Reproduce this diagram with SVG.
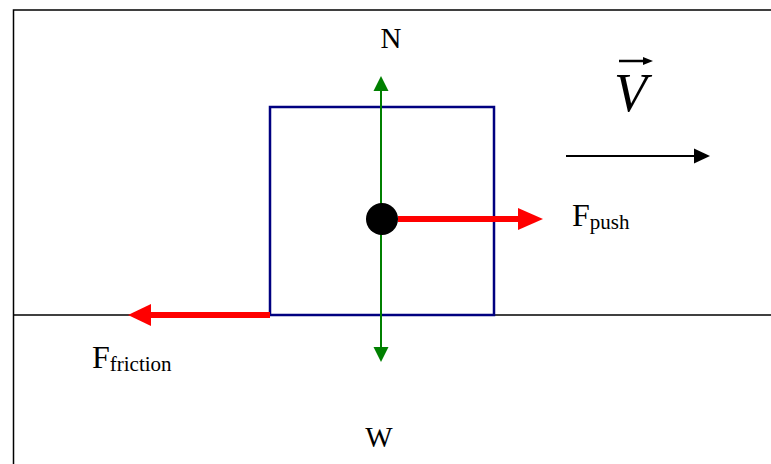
<svg xmlns="http://www.w3.org/2000/svg" width="771" height="464" viewBox="0 0 771 464">
<style>
.t{font-family:"Liberation Serif","Times New Roman",serif;fill:#000}
.frame{fill:none;stroke:#000;stroke-width:1.5}
</style>
<defs>
<marker id="gh" markerWidth="16" markerHeight="16" refX="0" refY="0" viewBox="-8 -8 16 16" orient="auto" markerUnits="userSpaceOnUse">
<path d="M8,0 L-7,-7.5 L-7,7.5 Z" fill="#008000"/>
</marker>
<marker id="kh" viewBox="-8 -8 16 16" markerWidth="16" markerHeight="16" refX="0" refY="0" orient="auto" markerUnits="userSpaceOnUse">
<path d="M8,0 L-8,-7.5 L-8,7.5 Z" fill="#000"/>
</marker>
</defs>
<rect width="771" height="464" fill="#fff"/>
<g id="frame">
<path class="frame" d="M771,10 H13.5 V464"/>
<line x1="13" y1="315" x2="771" y2="315" stroke="#000" stroke-width="1.5"/>
</g>
<g id="block">
<rect x="270" y="107" width="224" height="208" fill="none" stroke="#000080" stroke-width="2.5"/>
</g>
<g id="connectors">
<line x1="381" y1="220" x2="381" y2="84" stroke="#008000" stroke-width="2" marker-end="url(#gh)"/>
<line x1="381" y1="220" x2="381" y2="354" stroke="#008000" stroke-width="2" marker-end="url(#gh)"/>
<line x1="398" y1="219" x2="520" y2="219" stroke="#ff0000" stroke-width="6"/>
<path d="M543,219 L518,208 L518,230 Z" fill="#ff0000"/>
<line x1="270" y1="315" x2="148" y2="315" stroke="#ff0000" stroke-width="6"/>
<path d="M128,315 L151,304 L151,326 Z" fill="#ff0000"/>
<line x1="566" y1="156" x2="702" y2="156" stroke="#000" stroke-width="2" marker-end="url(#kh)"/>
</g>
<g id="dot"><circle cx="382" cy="219" r="16" fill="#000"/></g>
<g id="labels">
<text class="t" x="391" y="48" font-size="29" text-anchor="middle">N</text>
<text class="t" x="379" y="447" font-size="29" text-anchor="middle">W</text>
<text class="t" x="572" y="226" font-size="32">F<tspan font-size="21" dy="3">push</tspan></text>
<text class="t" x="92" y="368" font-size="32">F<tspan font-size="21" dy="3">friction</tspan></text>
<text class="t" x="614" y="111" font-size="54" font-style="italic">V</text>
<line x1="619" y1="61" x2="645" y2="61" stroke="#000" stroke-width="2.5"/>
<path d="M653,61 L643,57 L643,65 Z" fill="#000"/>
</g>
</svg>
